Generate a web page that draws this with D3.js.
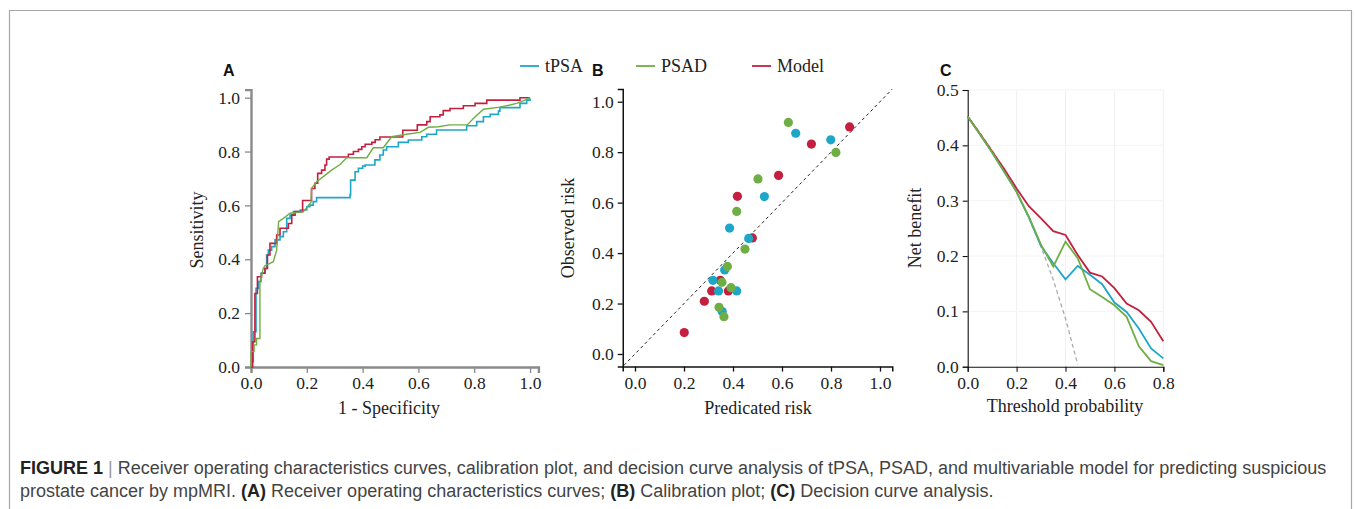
<!DOCTYPE html>
<html>
<head>
<meta charset="utf-8">
<script src="https://cdn.jsdelivr.net/npm/d3@7"></script>
<style>
  body { margin: 0; background: #fff; }
  svg { display: block; }
  .tick text { font-family: "Liberation Serif", "Times New Roman", serif; font-size: 17.5px; fill: #222; }
  .title { font-family: "Liberation Serif", "Times New Roman", serif; font-size: 18px; fill: #222; }
  .plabel { font-family: "Liberation Sans", Arial, sans-serif; font-size: 16px; font-weight: bold; fill: #111; }
  .caption { font-family: "Liberation Sans", Arial, sans-serif; font-size: 18px; fill: #444; }
</style>
</head>
<body>
<div id="chart"></div>
<script>
const seriesNames = ["tPSA", "PSAD", "Model"];
const colors = {tPSA: "#1ea6c9", PSAD: "#6fae45", Model: "#c41f3f"};

// A: ROC curves, [1 - specificity, sensitivity]
const rocTPSA = [[0,0],[0.004,0.020],[0.008,0.131],[0.018,0.292],[0.027,0.317],[0.036,0.348],[0.050,0.366],
  [0.056,0.416],[0.062,0.434],[0.074,0.447],[0.086,0.472],[0.104,0.484],[0.116,0.502],[0.128,0.552],[0.140,0.564],
  [0.152,0.577],[0.176,0.583],[0.200,0.595],[0.211,0.601],[0.223,0.614],[0.235,0.629],[0.355,0.639],[0.357,0.694],
  [0.373,0.725],[0.385,0.738],[0.400,0.746],[0.409,0.750],[0.444,0.769],[0.462,0.787],[0.474,0.806],[0.486,0.818],
  [0.528,0.834],[0.564,0.843],[0.612,0.855],[0.630,0.864],[0.665,0.880],[0.773,0.896],[0.809,0.911],[0.833,0.929],
  [0.857,0.938],[0.887,0.950],[0.892,0.963],[0.964,0.979],[0.988,0.991],[1,0.998]];
const rocPSAD = [[0,0],[0,0.057],[0.011,0.057],[0.011,0.082],[0.020,0.082],[0.020,0.106],[0.032,0.106],[0.032,0.317],
  [0.044,0.366],[0.050,0.376],[0.068,0.385],[0.080,0.391],[0.092,0.434],[0.099,0.540],[0.116,0.552],[0.140,0.571],
  [0.188,0.577],[0.205,0.599],[0.215,0.610],[0.217,0.663],[0.235,0.688],[0.259,0.707],[0.289,0.731],[0.319,0.752],
  [0.343,0.777],[0.415,0.777],[0.438,0.814],[0.474,0.814],[0.504,0.855],[0.558,0.864],[0.606,0.871],[0.636,0.890],
  [0.671,0.892],[0.713,0.899],[0.775,0.899],[0.797,0.923],[0.833,0.957],[0.892,0.965],[0.928,0.973],[0.952,0.979],
  [0.976,0.988],[1,1]];
const rocModel = [[0,0],[0.006,0.094],[0.014,0.273],[0.023,0.335],[0.038,0.348],[0.050,0.366],[0.059,0.416],
  [0.068,0.459],[0.092,0.490],[0.104,0.515],[0.134,0.533],[0.146,0.564],[0.158,0.577],[0.185,0.618],[0.217,0.663],
  [0.229,0.682],[0.239,0.719],[0.253,0.731],[0.265,0.750],[0.271,0.772],[0.280,0.780],[0.349,0.790],[0.367,0.800],
  [0.385,0.808],[0.397,0.818],[0.409,0.827],[0.433,0.834],[0.445,0.844],[0.462,0.854],[0.544,0.879],[0.596,0.899],
  [0.630,0.911],[0.642,0.929],[0.677,0.936],[0.689,0.952],[0.713,0.960],[0.761,0.970],[0.803,0.979],[0.845,0.991],
  [0.964,1.0],[1,1]];

// B: calibration, [predicted, observed]
const calTPSA = [[0.656,0.875],[0.799,0.849],[0.528,0.624],[0.386,0.499],[0.464,0.458],[0.366,0.333],
  [0.318,0.292],[0.341,0.250],[0.415,0.250],[0.356,0.168]];
const calPSAD = [[0.626,0.918],[0.820,0.799],[0.502,0.694],[0.415,0.565],[0.449,0.416],[0.377,0.347],
  [0.355,0.284],[0.392,0.263],[0.343,0.185],[0.363,0.148]];
const calModel = [[0.876,0.900],[0.720,0.832],[0.586,0.708],[0.418,0.625],[0.479,0.460],[0.348,0.292],
  [0.313,0.250],[0.381,0.250],[0.283,0.209],[0.201,0.085]];

// C: decision curves
const thresholds = [0,0.05,0.1,0.15,0.2,0.25,0.3,0.35,0.4,0.45,0.5,0.55,0.6,0.65,0.7,0.75,0.8];
const dcaTPSA = [0.452,0.420,0.387,0.352,0.316,0.270,0.218,0.187,0.158,0.182,0.166,0.149,0.116,0.099,0.069,0.033,0.015];
const dcaPSAD = [0.452,0.420,0.387,0.352,0.316,0.271,0.220,0.181,0.226,0.196,0.140,0.126,0.111,0.090,0.037,0.010,0.003];
const dcaModel = [0.452,0.421,0.389,0.357,0.322,0.290,0.268,0.245,0.238,0.202,0.170,0.163,0.142,0.114,0.102,0.081,0.046];
const dcaAll = [0.452,0.423,0.391,0.355,0.315,0.269,0.217,0.157,0.087,0.004];

const ticksAB = [0, 0.2, 0.4, 0.6, 0.8, 1.0];
const ticksCx = [0, 0.2, 0.4, 0.6, 0.8];
const ticksCy = [0, 0.1, 0.2, 0.3, 0.4, 0.5];

const W = 1355, H = 509;
const svg = d3.select("#chart").append("svg").attr("width", W).attr("height", H);

// frame
svg.append("path").attr("d", "M9.5,520 V10.5 H1351.5 V520")
  .attr("fill", "none").attr("stroke", "#a6a6a6").attr("stroke-width", 1.2);

const fmt = d3.format(".1f");

function styleAxis(g, color, width) {
  g.select(".domain").attr("stroke", color).attr("stroke-width", width);
  g.selectAll(".tick line").attr("stroke", color).attr("stroke-width", Math.min(width, 1.3));
}

// ---------- Panel A ----------
const xA = d3.scaleLinear().domain([0, 1.03]).range([251, 538.4]);
const yA = d3.scaleLinear().domain([0, 1.03]).range([367, 89.6]);

svg.append("g").attr("transform", "translate(0,367)")
  .call(d3.axisBottom(xA).tickValues(ticksAB).tickFormat(fmt).tickSizeOuter(0).tickSize(6).tickPadding(4))
  .call(g => styleAxis(g, "#8a8a8a", 2.4));
svg.append("g").attr("transform", "translate(251,0)")
  .call(d3.axisLeft(yA).tickValues(ticksAB).tickFormat(fmt).tickSizeOuter(0).tickSize(6).tickPadding(5))
  .call(g => styleAxis(g, "#8a8a8a", 2.4));

const lineStep = d3.line().x(d => xA(d[0])).y(d => yA(d[1])).curve(d3.curveStepAfter);
const lineLin = d3.line().x(d => xA(d[0])).y(d => yA(d[1]));
svg.append("path").attr("d", lineStep(rocTPSA)).attr("fill", "none").attr("stroke", colors.tPSA).attr("stroke-width", 1.6);
svg.append("path").attr("d", lineStep(rocModel)).attr("fill", "none").attr("stroke", colors.Model).attr("stroke-width", 1.6);
svg.append("path").attr("d", lineLin(rocPSAD)).attr("fill", "none").attr("stroke", colors.PSAD).attr("stroke-width", 1.4);

svg.append("text").attr("class", "title").attr("text-anchor", "middle")
  .attr("transform", "translate(203,230) rotate(-90)").text("Sensitivity");
svg.append("text").attr("class", "title").attr("text-anchor", "middle")
  .attr("x", 389).attr("y", 414).text("1 - Specificity");
svg.append("text").attr("class", "plabel").attr("x", 223).attr("y", 76).text("A");

// ---------- Panel B ----------
const xB = d3.scaleLinear().domain([-0.05, 1.05]).range([622.75, 892.25]);
const yB = d3.scaleLinear().domain([-0.05, 1.05]).range([366.6, 89.1]);

svg.append("g").attr("transform", "translate(0,366.6)")
  .call(d3.axisBottom(xB).tickValues(ticksAB).tickFormat(fmt).tickSizeOuter(0).tickSize(5).tickPadding(5))
  .call(g => styleAxis(g, "#111", 1.5));
svg.append("g").attr("transform", "translate(622.75,0)")
  .call(d3.axisLeft(yB).tickValues(ticksAB).tickFormat(fmt).tickSizeOuter(0).tickSize(5).tickPadding(4))
  .call(g => styleAxis(g, "#111", 1.5));

svg.append("line")
  .attr("x1", xB(-0.045)).attr("y1", yB(-0.045)).attr("x2", xB(1.05)).attr("y2", yB(1.05))
  .attr("stroke", "#222").attr("stroke-width", 1).attr("stroke-dasharray", "3,3");

[[calModel, colors.Model], [calTPSA, colors.tPSA], [calPSAD, colors.PSAD]].forEach(([data, c]) => {
  svg.append("g").selectAll("circle").data(data).join("circle")
    .attr("cx", d => xB(d[0])).attr("cy", d => yB(d[1])).attr("r", 4.6).attr("fill", c);
});

svg.append("text").attr("class", "title").attr("text-anchor", "middle")
  .attr("transform", "translate(574,228) rotate(-90)").text("Observed risk");
svg.append("text").attr("class", "title").attr("text-anchor", "middle")
  .attr("x", 758).attr("y", 414).text("Predicated risk");
svg.append("text").attr("class", "plabel").attr("x", 592).attr("y", 76).text("B");

// ---------- Panel C ----------
const xC = d3.scaleLinear().domain([0, 0.8]).range([967.7, 1163.3]);
const yC = d3.scaleLinear().domain([0, 0.5]).range([366.7, 90]);

svg.append("g").selectAll("line.gx").data(ticksCx.slice(1)).join("line")
  .attr("x1", d => xC(d)).attr("x2", d => xC(d)).attr("y1", yC(0)).attr("y2", yC(0.5))
  .attr("stroke", "#f1f1f1").attr("stroke-width", 1);
svg.append("g").selectAll("line.gy").data(ticksCy.slice(1)).join("line")
  .attr("x1", xC(0)).attr("x2", xC(0.8)).attr("y1", d => yC(d)).attr("y2", d => yC(d))
  .attr("stroke", "#f4f4f4").attr("stroke-width", 1);

svg.append("g").attr("transform", "translate(0,366.7)")
  .call(d3.axisBottom(xC).tickValues(ticksCx).tickFormat(fmt).tickSizeOuter(0).tickSize(5).tickPadding(5))
  .call(g => styleAxis(g, "#111", 1.1));
svg.append("g").attr("transform", "translate(967.7,0)")
  .call(d3.axisLeft(yC).tickValues(ticksCy).tickFormat(fmt).tickSizeOuter(0).tickSize(5).tickPadding(4))
  .call(g => styleAxis(g, "#111", 1.1));

const lineC = d3.line().x((d, i) => xC(thresholds[i])).y(d => yC(d));
svg.append("path").attr("d", lineC(dcaAll)).attr("fill", "none").attr("stroke", "#aaa")
  .attr("stroke-width", 1.3).attr("stroke-dasharray", "4,3");
svg.append("path").attr("d", lineC(dcaTPSA)).attr("fill", "none").attr("stroke", colors.tPSA).attr("stroke-width", 1.8);
svg.append("path").attr("d", lineC(dcaModel)).attr("fill", "none").attr("stroke", colors.Model).attr("stroke-width", 1.8);
svg.append("path").attr("d", lineC(dcaPSAD)).attr("fill", "none").attr("stroke", colors.PSAD).attr("stroke-width", 1.8);

svg.append("text").attr("class", "title").attr("text-anchor", "middle")
  .attr("transform", "translate(921,228) rotate(-90)").text("Net benefit");
svg.append("text").attr("class", "title").attr("text-anchor", "middle")
  .attr("x", 1065).attr("y", 412).text("Threshold probability");
svg.append("text").attr("class", "plabel").attr("x", 940).attr("y", 76).text("C");

// ---------- Legend ----------
const legendX = [520, 636, 752];
seriesNames.forEach((n, i) => {
  svg.append("line").attr("x1", legendX[i]).attr("x2", legendX[i] + 19).attr("y1", 66).attr("y2", 66)
    .attr("stroke", colors[n]).attr("stroke-width", 1.8);
  svg.append("text").attr("class", "title").attr("x", legendX[i] + 25).attr("y", 72).text(n);
});

// ---------- Caption ----------
const cap = svg.append("g").attr("class", "caption");
const l1 = cap.append("text").attr("x", 20).attr("y", 474);
l1.append("tspan").attr("font-weight", "bold").attr("fill", "#222").text("FIGURE 1");
l1.append("tspan").attr("fill", "#999").text(" | ");
l1.append("tspan").text("Receiver operating characteristics curves, calibration plot, and decision curve analysis of tPSA, PSAD, and multivariable model for predicting suspicious");
const l2 = cap.append("text").attr("x", 20).attr("y", 497);
l2.append("tspan").text("prostate cancer by mpMRI. ");
l2.append("tspan").attr("font-weight", "bold").attr("fill", "#222").text("(A)");
l2.append("tspan").text(" Receiver operating characteristics curves; ");
l2.append("tspan").attr("font-weight", "bold").attr("fill", "#222").text("(B)");
l2.append("tspan").text(" Calibration plot; ");
l2.append("tspan").attr("font-weight", "bold").attr("fill", "#222").text("(C)");
l2.append("tspan").text(" Decision curve analysis.");
</script>
</body>
</html>
